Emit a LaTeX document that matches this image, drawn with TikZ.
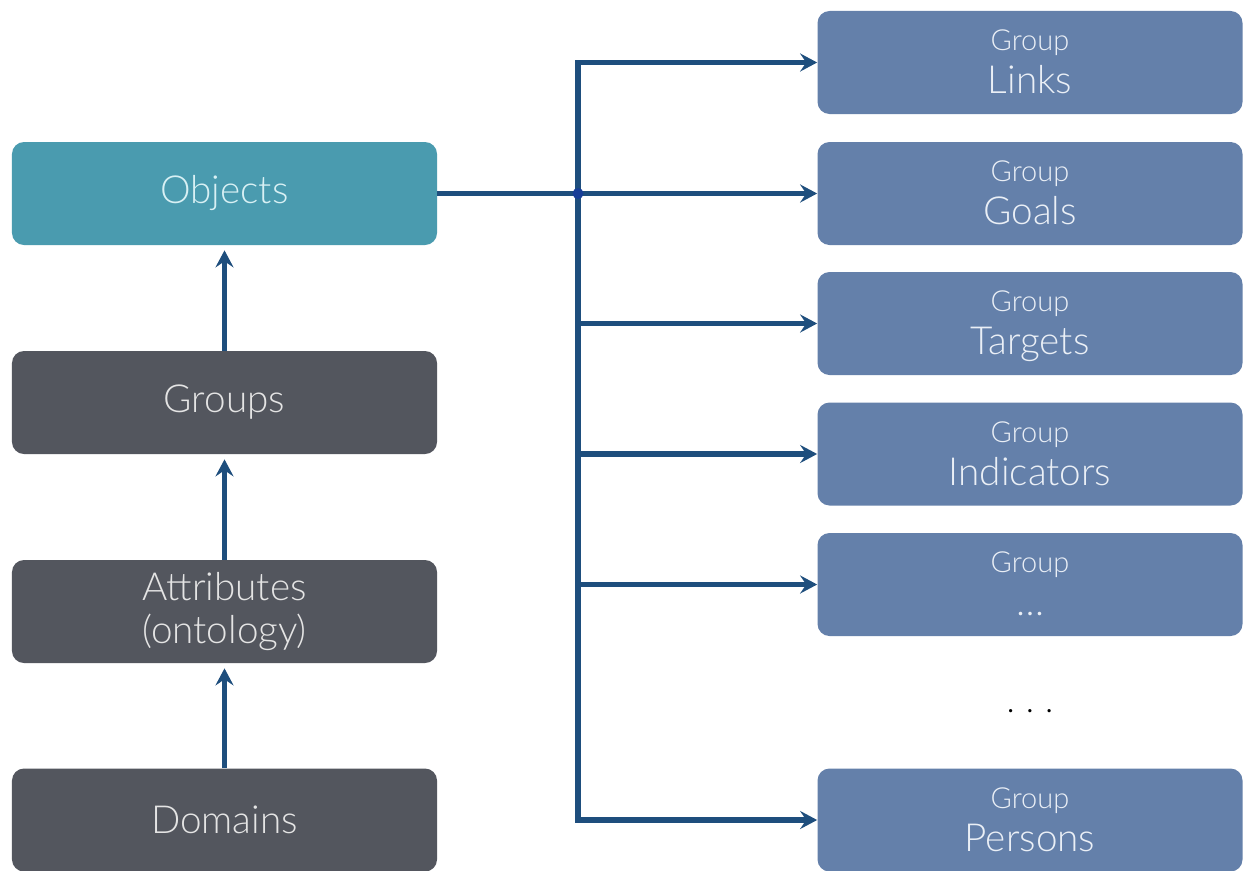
\documentclass[tikz,border=0pt]{standalone}
\usepackage{fontspec}
\setmainfont{Lato Light}
\usetikzlibrary{arrows.meta}
\definecolor{objc}{HTML}{4A9BAF}
\definecolor{grayc}{HTML}{53565E}
\definecolor{bluec}{HTML}{6480AA}
\definecolor{linec}{HTML}{1E4E7D}
\definecolor{objtext}{HTML}{D8F0F4}
\definecolor{graytext}{HTML}{E4E4E4}
\definecolor{bluetext}{HTML}{EAEFF6}
\begin{document}
\begin{tikzpicture}[x=0.2mm,y=-0.2mm,
  box/.style={rectangle, rounded corners=2.4mm, minimum width=85mm, minimum height=20.6mm, inner sep=0pt, align=center, font=\fontsize{22}{25}\selectfont},
  objbox/.style={box, fill=objc, text=objtext},
  graybox/.style={box, fill=grayc, text=graytext},
  bluebox/.style={box, fill=bluec},
  gsmall/.style={anchor=base, text=bluetext, font=\fontsize{16.5}{18}\selectfont, inner sep=0pt},
  gbig/.style={anchor=base, text=bluetext, font=\fontsize{22}{24}\selectfont, inner sep=0pt},
  conn/.style={draw=linec, line width=2.9pt, -{Stealth[length=3.4mm, width=3.6mm, inset=1.2mm]}},
]
\useasboundingbox (0,0) rectangle (1246,870);
\fill[white] (0,0) rectangle (1246,870);

% left column
\node[objbox] (obj) at (224.5,193.5) {Objects};
\node[graybox] (grp) at (224.5,402.5) {Groups};
\node[graybox] (att) at (224.5,611.5) {Attributes\\(ontology)};
\node[graybox] (dom) at (224.5,820) {Domains};

% right column
\node[bluebox] (links) at (1030,62.5) {};
\node[bluebox] (goals) at (1030,193.5) {};
\node[bluebox] (targets) at (1030,323.5) {};
\node[bluebox] (ind) at (1030,454) {};
\node[bluebox] (more) at (1030,584.5) {};
\node[bluebox] (pers) at (1030,820) {};

\foreach \b/\t in {links/Links, goals/Goals, targets/Targets, ind/Indicators, more/…, pers/Persons}{
  \node[gsmall] (\b-g) at ([yshift=-8mm]\b.north) {Group};
  \node[gbig] (\b-t) at ([yshift=-16.6mm]\b.north) {\t};
}

\node[anchor=base, font=\fontsize{20}{24}\selectfont, text=black, inner sep=0pt] (dots) at (1030,712) {.\hspace{2.2mm}.\hspace{2.2mm}.};

% vertical arrows
\draw[conn] (grp.north) -- ([yshift=-1mm]obj.south);
\draw[conn] (att.north) -- ([yshift=-1mm]grp.south);
\draw[conn] (dom.north) -- ([yshift=-1mm]att.south);

% trunk
\coordinate (jn) at (578,193.5);
\draw[conn] (obj.east) -- (goals.west);
\draw[conn] (jn) |- (links.west);
\draw[conn] (jn) |- (targets.west);
\draw[conn] (jn) |- (ind.west);
\draw[conn] (jn) |- (more.west);
\draw[conn] (jn) |- (pers.west);
\fill[linec!80!blue] (jn) circle (1.1mm);
\end{tikzpicture}
\end{document}
